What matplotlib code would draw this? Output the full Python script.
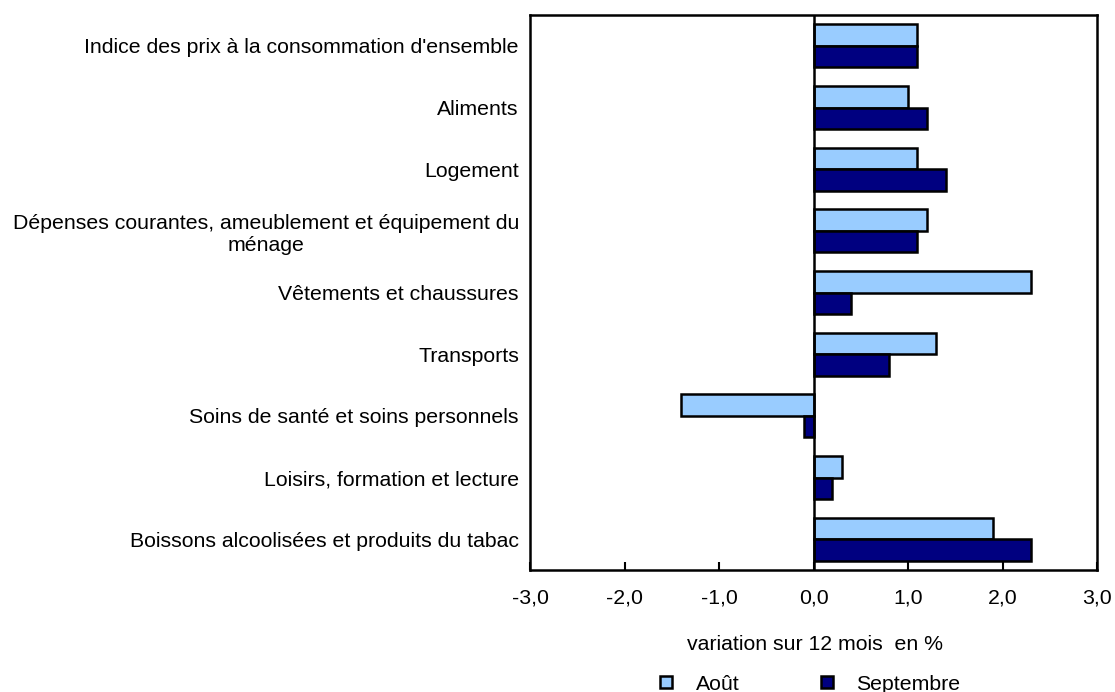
import matplotlib
matplotlib.use("Agg")
import matplotlib.pyplot as plt
import numpy as np
from matplotlib.lines import Line2D

plt.rcParams['font.family'] = ['Liberation Sans', 'DejaVu Sans']

categories = [
    "Indice des prix à la consommation d'ensemble",
    "Aliments",
    "Logement",
    "Dépenses courantes, ameublement et équipement du\nménage",
    "Vêtements et chaussures",
    "Transports",
    "Soins de santé et soins personnels",
    "Loisirs, formation et lecture",
    "Boissons alcoolisées et produits du tabac",
]
aout = [1.1, 1.0, 1.1, 1.2, 2.3, 1.3, -1.4, 0.3, 1.9]
septembre = [1.1, 1.2, 1.4, 1.1, 0.4, 0.8, -0.1, 0.2, 2.3]
xticks = [-3.0, -2.0, -1.0, 0.0, 1.0, 2.0, 3.0]
xticklabels = ["-3,0", "-2,0", "-1,0", "0,0", "1,0", "2,0", "3,0"]

c_aout = "#99CCFF"
c_sep = "#000080"
fs = 15.3

fig = plt.figure(figsize=(11.15, 6.92), dpi=100)
ax = fig.add_axes([530/1115, 1-570/692, (1097-530)/1115, (570-15)/692])

y = np.arange(len(categories))
h = 0.35
ax.barh(y - h/2, aout, height=h, color=c_aout, edgecolor="black", linewidth=1.8, zorder=2)
ax.barh(y + h/2, septembre, height=h, color=c_sep, edgecolor="black", linewidth=1.8, zorder=2)
ax.axvline(0, color="black", linewidth=1.8, zorder=3)

ax.set_xlim(-3, 3)
ax.set_ylim(len(categories) - 0.5, -0.5)
ax.set_yticks(y)
ax.set_yticklabels(categories, fontsize=fs)
ax.tick_params(axis='y', length=0, pad=8)
ax.set_xticks(xticks)
ax.set_xticklabels(xticklabels, fontsize=fs)
ax.tick_params(axis='x', direction='in', length=6, width=1.5, pad=13)
for lbl in ax.get_yticklabels():
    lbl.set_horizontalalignment('right')
    lbl.set_multialignment('center')
for s in ax.spines.values():
    s.set_linewidth(1.8)
    s.set_color("black")

fig.text(815/1115, 1-644/692, "variation sur 12 mois  en %", ha="center", va="center", fontsize=fs)

handles = [
    Line2D([], [], marker='s', linestyle='none', markersize=9, markerfacecolor=c_aout, markeredgecolor='black', markeredgewidth=1.8),
    Line2D([], [], marker='s', linestyle='none', markersize=9, markerfacecolor=c_sep, markeredgecolor='black', markeredgewidth=1.8),
]
fig.legend(handles, ["Août", "Septembre"], loc="center", bbox_to_anchor=(808/1115, 1-684/692),
           ncol=2, frameon=False, fontsize=fs, handletextpad=0.9, columnspacing=3.6, handlelength=1.0)

fig.savefig("out.png", dpi=100)
